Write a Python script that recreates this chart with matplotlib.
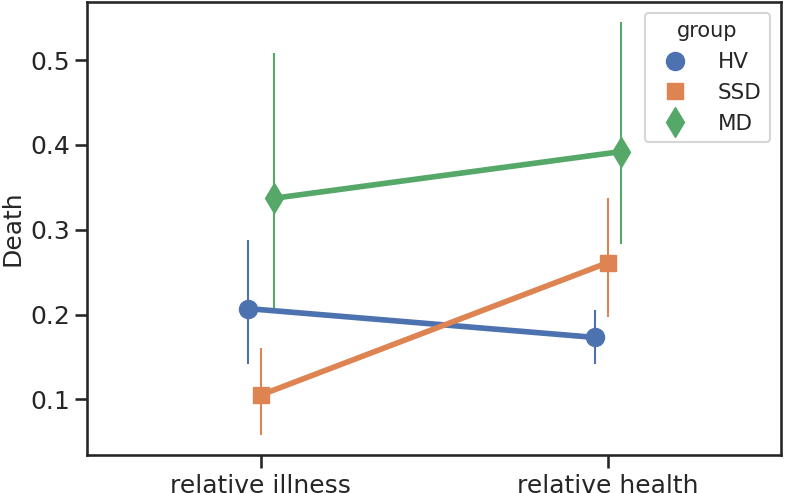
import matplotlib
matplotlib.use('Agg')
import matplotlib.pyplot as plt
from matplotlib.lines import Line2D
import numpy as np
import seaborn as sns

conditions = ['relative illness', 'relative health']
groups = ['HV', 'SSD', 'MD']
# mean and CI bounds for each group, per condition
means = {
    'HV': [0.207, 0.173],
    'SSD': [0.105, 0.261],
    'MD': [0.337, 0.392],
}
ci_low = {
    'HV': [0.142, 0.142],
    'SSD': [0.058, 0.197],
    'MD': [0.207, 0.283],
}
ci_high = {
    'HV': [0.288, 0.205],
    'SSD': [0.161, 0.337],
    'MD': [0.508, 0.545],
}

sns.set_theme(style='ticks', context='talk')
colors = sns.color_palette('deep')[:3]
markers = ['o', 's', 'd']
sizes = [13, 12, 15]

fig, ax = plt.subplots(figsize=(7.86, 4.93), dpi=100)
fig.subplots_adjust(left=0.111, right=0.9936, bottom=0.077, top=0.996)

x = np.arange(len(conditions))
offsets = np.linspace(-0.0375, 0.0375, len(groups))
for g, off, c in zip(groups, offsets, colors):
    ax.vlines(x + off, ci_low[g], ci_high[g], color=c, lw=1.5, zorder=2)
for g, off, c, m, ms in zip(groups, offsets, colors, markers, sizes):
    ax.plot(x + off, means[g], color=c, lw=4.05, marker=m, ms=ms, zorder=3)

ax.set_xticks(x)
ax.set_xticklabels(conditions)
ax.set_xlim(-0.5, 1.5)
ax.set_ylim(0.0343, 0.5685)
ax.set_yticks([0.1, 0.2, 0.3, 0.4, 0.5])
ax.tick_params(axis='both', labelsize=18)
ax.tick_params(axis='x', pad=4.5)
ax.set_ylabel('Death', fontsize=18)

handles = [Line2D([], [], color=c, marker=m, ls='', ms=ms)
           for c, m, ms in zip(colors, markers, sizes)]
ax.legend(handles, groups, title='group', loc='upper right',
          fontsize=15.5, title_fontsize=15, handletextpad=1.0)

fig.savefig('out.png', dpi=100)
